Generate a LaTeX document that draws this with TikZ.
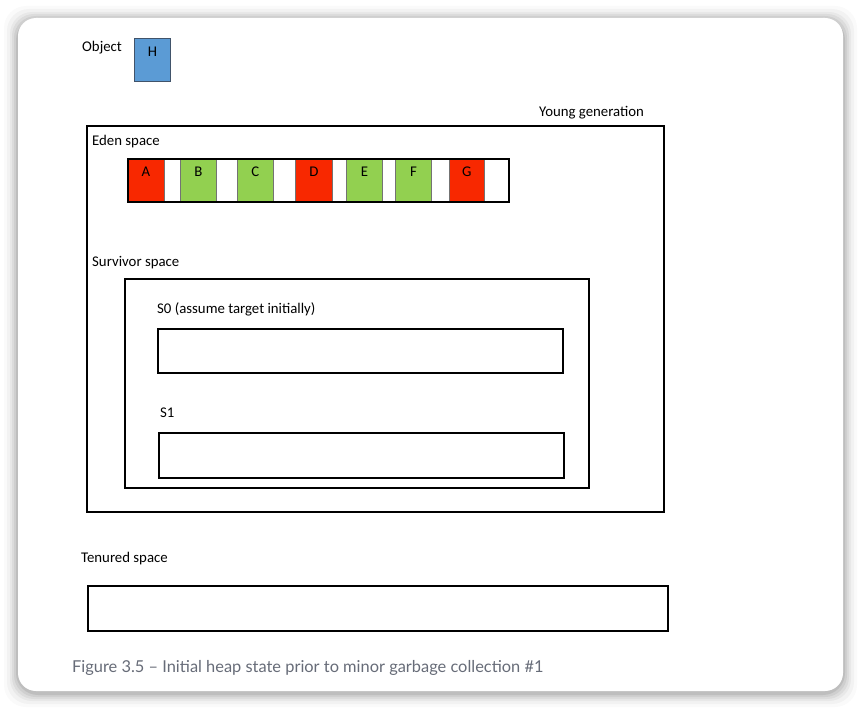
\documentclass[tikz,border=0pt]{standalone}
\usepackage{fontspec}
\setmainfont{Carlito}
\newfontfamily\capfont{Lato}
\definecolor{edenred}{HTML}{F82800}
\definecolor{edengreen}{HTML}{92D050}
\definecolor{objblue}{HTML}{5B9BD5}
\definecolor{objedge}{HTML}{41536A}
\definecolor{capgray}{HTML}{676C78}
\begin{document}
\begin{tikzpicture}[x=1pt,y=-1pt,
  region/.style={draw=black, line width=1.6pt, anchor=north west, inner sep=0pt},
  lbl/.style={anchor=west, inner sep=0pt, font=\fontsize{14.8}{17}\selectfont},
  cellbox/.style={draw=black!55, line width=0.8pt, anchor=north west, inner sep=0pt,
    minimum height=43pt, text height=18pt, text depth=25pt, font=\fontsize{14.8}{17}\selectfont},
  redcell/.style={cellbox, fill=edenred},
  greencell/.style={cellbox, fill=edengreen},
  freecell/.style={cellbox, fill=white}
]
\useasboundingbox (0,0) rectangle (861,709);
\fill[white] (0,0) rectangle (861,709);
% card shadow
\foreach \s/\o in {14/0.02,11/0.03,8/0.04,6/0.05,4/0.06,2/0.08}{
  \fill[black, opacity=\o, rounded corners=22pt] (18-\s,18-\s+2) rectangle (843+\s,691+\s+2);
}
\fill[white, rounded corners=18pt] (18,18) rectangle (843,691);

% object
\node[lbl] (objlbl) at (82,48) {Object};
\node[anchor=north west, inner sep=0pt, draw=objedge, line width=0.8pt, fill=objblue,
  minimum width=36pt, minimum height=43pt, text height=18pt, text depth=25pt,
  font=\fontsize{14.8}{17}\selectfont] (h) at (134,38) {H};

% young generation
\node[lbl] (younglbl) at (539,113) {Young generation};
\node[region, minimum width=577pt, minimum height=386pt] (young) at (86,125) {};

% eden
\node[lbl] (edenlbl) at (92,142) {Eden space};
\node[redcell,   minimum width=37pt] (a)  at (127,158) {A};
\node[freecell,  minimum width=16pt] (w1) at (164,158) {};
\node[greencell, minimum width=36pt] (b)  at (180,158) {B};
\node[freecell,  minimum width=21pt] (w2) at (216,158) {};
\node[greencell, minimum width=36pt] (c)  at (237,158) {C};
\node[freecell,  minimum width=22pt] (w3) at (273,158) {};
\node[redcell,   minimum width=37pt] (d)  at (295,158) {D};
\node[freecell,  minimum width=14pt] (w4) at (332,158) {};
\node[greencell, minimum width=36pt] (e)  at (346,158) {E};
\node[freecell,  minimum width=13pt] (w5) at (382,158) {};
\node[greencell, minimum width=36pt] (f)  at (395,158) {F};
\node[freecell,  minimum width=18pt] (w6) at (431,158) {};
\node[redcell,   minimum width=35pt] (g)  at (449,158) {G};
\node[freecell,  minimum width=24pt] (w7) at (484,158) {};
\node[region, minimum width=381pt, minimum height=43pt] (eden) at (127,158) {};

% survivor
\node[lbl] (survlbl) at (92,263) {Survivor space};
\node[region, minimum width=464pt, minimum height=209pt] (surv) at (124,278) {};
\node[lbl] (s0lbl) at (157,309) {S0 (assume target initially)};
\node[region, minimum width=405pt, minimum height=44pt] (s0) at (157,328) {};
\node[lbl] (s1lbl) at (160,413) {S1};
\node[region, minimum width=405pt, minimum height=45pt] (s1) at (158,432) {};

% tenured
\node[lbl] (tenlbl) at (81,559) {Tenured space};
\node[region, minimum width=580pt, minimum height=45pt] (tenured) at (87,585) {};

% caption
\node[anchor=west, inner sep=0pt, text=capgray, font=\capfont\fontsize{16.4}{19}\selectfont] (cap) at (72,668)
  {Figure 3.5 – Initial heap state prior to minor garbage collection \#1};
\end{tikzpicture}
\end{document}
